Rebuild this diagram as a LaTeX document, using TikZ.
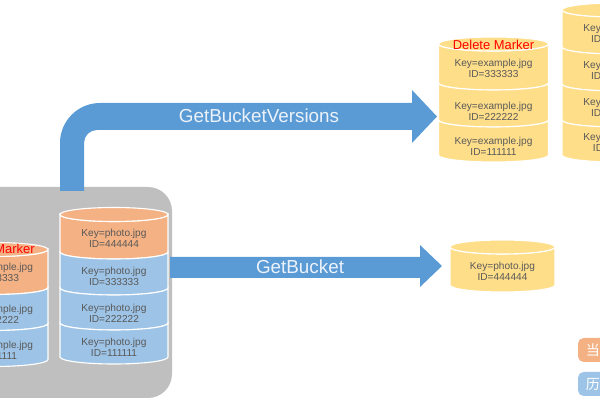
\documentclass[tikz,border=0pt]{standalone}
\usepackage{fontspec}
\setmainfont{Liberation Sans}
\newfontfamily\cjk{Noto Sans CJK SC}
\usetikzlibrary{positioning}
\definecolor{boxgray}{RGB}{191,191,191}
\definecolor{arrowblue}{RGB}{91,155,213}
\definecolor{verorange}{RGB}{244,177,131}
\definecolor{verblue}{RGB}{157,195,230}
\definecolor{veryellow}{RGB}{255,222,138}
\definecolor{keygray}{RGB}{89,89,89}
\definecolor{optextcol}{RGB}{236,242,250}
\tikzset{
  keytext/.style={font=\fontsize{7.2}{7.9}\selectfont, text=keygray,
    align=center, inner sep=0pt},
  delmark/.style={font=\fontsize{9.2}{10}\selectfont, text=red, inner sep=0pt},
  optext/.style={font=\fontsize{13.4}{15}\selectfont, text=optextcol, inner sep=0pt},
  bandline/.style={draw=white, line width=0.8pt},
  legendbox/.style={rounded corners=4pt}
}
% one band of a stacked cylinder: centre x, top, bottom, x radius, colour
\newcommand{\band}[5]{%
  \filldraw[bandline, fill=#5] (#1-#4,#2) -- (#1-#4,#3)
    arc[start angle=180, end angle=360, x radius=#4, y radius=7]
    -- (#1+#4,#2) arc[start angle=0, end angle=-180, x radius=#4, y radius=7] -- cycle;}
\newcommand{\lid}[4]{%
  \filldraw[bandline, fill=#4] (#1,#2) ellipse[x radius=#3, y radius=7];}

\begin{document}
\begin{tikzpicture}[x=0.025cm, y=0.025cm]
  \useasboundingbox (0,0) rectangle (600,400);
  \clip (0,0) rectangle (600,400);

  % Bucket
  \fill[boxgray, rounded corners=0.6cm] (-40,2) rectangle (172,213);

  % GetBucketVersions arrow
  \fill[arrowblue] (60,209) -- (60,257) arc[start angle=180, end angle=90, radius=40]
    -- (412,297) -- (412,310) -- (437,283.5) -- (412,257) -- (412,270) -- (97,270)
    arc[start angle=90, end angle=180, radius=13] -- (84,209) -- cycle;
  \node[optext] (gbv) at (259,284) {GetBucketVersions};

  % GetBucket arrow
  \fill[arrowblue] (170,143) -- (420,143) -- (420,155) -- (442,134) -- (420,113)
    -- (420,122) -- (170,122) -- cycle;
  \node[optext] (gb) at (300,133) {GetBucket};

  % example.jpg in the bucket
  \band{-6}{150.5}{112.5}{54}{verorange}
  \band{-6}{112.5}{76.5}{54}{verblue}
  \band{-6}{76.5}{40.5}{54}{verblue}
  \lid{-6}{150.5}{54}{verorange}
  \node[delmark] (ed) at (-6,151) {Delete Marker};
  \node[keytext] (e3) at (-6,127.5) {Key=example.jpg\\ID=333333};
  \node[keytext] (e2) at (-6,86) {Key=example.jpg\\ID=222222};
  \node[keytext] (e1) at (-6,50) {Key=example.jpg\\ID=111111};

  % photo.jpg in the bucket
  \band{114}{185.5}{148}{54}{verorange}
  \band{114}{148}{112}{54}{verblue}
  \band{114}{112}{77}{54}{verblue}
  \band{114}{77}{43}{54}{verblue}
  \lid{114}{185.5}{54}{verorange}
  \node[keytext] (p4) at (114,162) {Key=photo.jpg\\ID=444444};
  \node[keytext] (p3) at (114,124) {Key=photo.jpg\\ID=333333};
  \node[keytext] (p2) at (114,86.5) {Key=photo.jpg\\ID=222222};
  \node[keytext] (p1) at (114,52.5) {Key=photo.jpg\\ID=111111};

  % GetBucketVersions result
  \band{493.5}{356}{317}{55}{veryellow}
  \band{493.5}{317}{280}{55}{veryellow}
  \band{493.5}{280}{245}{55}{veryellow}
  \lid{493.5}{356}{55}{veryellow}
  \node[delmark] (vd) at (493.5,355) {Delete Marker};
  \node[keytext] (ve3) at (493.5,331.5) {Key=example.jpg\\ID=333333};
  \node[keytext] (ve2) at (493.5,289) {Key=example.jpg\\ID=222222};
  \node[keytext] (ve1) at (493.5,254) {Key=example.jpg\\ID=111111};

  \band{616}{390}{353}{54}{veryellow}
  \band{616}{353}{316}{54}{veryellow}
  \band{616}{316}{280}{54}{veryellow}
  \band{616}{280}{245}{54}{veryellow}
  \lid{616}{390}{54}{veryellow}
  \node[keytext] (vp4) at (616,367) {Key=photo.jpg\\ID=444444};
  \node[keytext] (vp3) at (616,330) {Key=photo.jpg\\ID=333333};
  \node[keytext] (vp2) at (616,293) {Key=photo.jpg\\ID=222222};
  \node[keytext] (vp1) at (616,258) {Key=photo.jpg\\ID=111111};

  % GetBucket result
  \band{502.5}{153}{115}{52.5}{veryellow}
  \lid{502.5}{153}{52.5}{veryellow}
  \node[keytext] (gp4) at (502.5,129) {Key=photo.jpg\\ID=444444};

  % Legend
  \fill[verorange, legendbox] (578,38) rectangle (630,62);
  \node[text=white, font=\cjk\fontsize{10}{12}\selectfont] (lg1) at (593,50) {当};
  \fill[verblue, legendbox] (578,4) rectangle (630,28);
  \node[text=white, font=\cjk\fontsize{10}{12}\selectfont] (lg2) at (593,16) {历};
\end{tikzpicture}
\end{document}
